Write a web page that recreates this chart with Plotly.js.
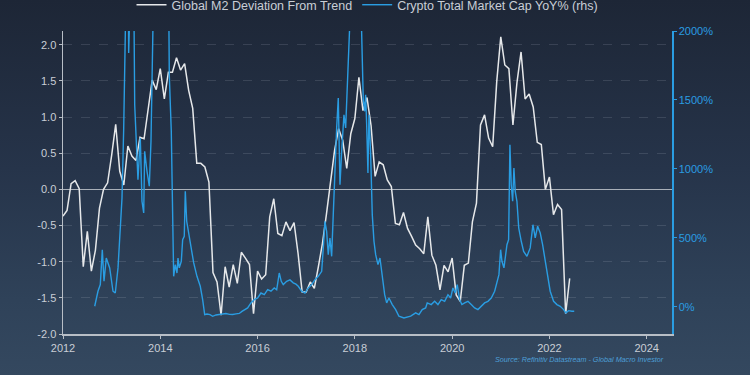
<!DOCTYPE html>
<html>
<head>
<meta charset="utf-8">
<script src="https://cdn.plot.ly/plotly-3.0.1.min.js"></script>
<style>
html,body{margin:0;padding:0;}
body{width:750px;height:375px;background:linear-gradient(180deg,#1d2636 0%,#26344a 45%,#2f4259 80%,#34485f 100%);overflow:hidden;}
#chart{width:750px;height:375px;}
</style>
</head>
<body>
<div id="chart"></div>
<script>
// Global M2 deviation from trend (monthly, starting Jan 2012)
const m2Start = 2012;
const m2Values = [
 -0.37,-0.29,0.08,0.12,0.01,-1.07,-0.58,-1.13,-0.84,-0.26,0.00,0.09,
 0.47,0.90,0.25,0.06,0.60,0.46,0.40,0.72,0.70,1.14,1.51,1.38,
 1.67,1.25,1.62,1.62,1.82,1.65,1.74,1.37,1.12,0.36,0.36,0.31,
 0.10,-1.15,-1.28,-1.74,-1.07,-1.35,-1.04,-1.30,-0.87,-0.95,-1.04,-1.72,
 -1.13,-1.24,-1.18,-0.38,-0.13,-0.61,-0.64,-0.45,-0.57,-0.46,-0.89,-1.42,
 -1.42,-1.28,-1.37,-1.07,-0.75,-0.34,0.10,0.54,0.84,0.68,0.29,0.77,
 0.98,1.55,1.09,1.27,0.88,0.18,0.38,0.34,0.13,0.04,-0.47,-0.49,
 -0.32,-0.54,-0.65,-0.77,-0.82,-0.89,-0.38,-0.91,-1.05,-1.39,-1.05,-1.14,
 -0.95,-1.46,-1.55,-1.05,-1.02,-0.45,-0.19,0.89,1.03,0.71,0.59,1.49,
 2.11,1.72,1.67,0.89,1.48,1.90,1.25,1.32,1.14,0.65,0.62,0.00,
 0.17,-0.35,-0.21,-0.28,-1.72,-1.23
];

// Crypto total market cap YoY % (decimal-year dates)
const cryptoT = [
 2012.652,2012.719,2012.767,2012.808,2012.843,2012.890,2012.960,2013.028,2013.075,2013.131,
 2013.178,2013.213,2013.248,2013.268,2013.330,2013.350,2013.367,2013.439,2013.474,2013.521,
 2013.541,2013.589,2013.624,2013.659,2013.679,2013.727,2013.774,2013.809,2013.844,2013.864,
 2013.994,2014.158,2014.185,2014.226,2014.255,2014.275,2014.308,2014.343,2014.364,2014.390,
 2014.432,2014.460,2014.493,2014.514,2014.543,2014.584,2014.637,2014.687,2014.754,2014.822,
 2014.871,2014.913,2014.960,2015.022,2015.077,2015.145,2015.213,2015.279,2015.350,2015.422,
 2015.488,2015.556,2015.624,2015.679,2015.727,2015.796,2015.864,2015.932,2016.002,2016.070,
 2016.138,2016.208,2016.275,2016.343,2016.393,2016.446,2016.487,2016.528,2016.598,2016.666,
 2016.734,2016.789,2016.837,2016.906,2016.974,2017.042,2017.112,2017.180,2017.248,2017.318,
 2017.365,2017.385,2017.420,2017.453,2017.488,2017.523,2017.556,2017.591,2017.626,2017.659,
 2017.694,2017.729,2017.776,2017.811,2017.844,2017.879,2017.899,2018.002,2018.132,2018.152,
 2018.173,2018.202,2018.222,2018.243,2018.269,2018.290,2018.325,2018.358,2018.393,2018.428,
 2018.475,2018.516,2018.563,2018.613,2018.654,2018.701,2018.769,2018.839,2018.906,2019.009,
 2019.147,2019.250,2019.318,2019.385,2019.455,2019.488,2019.570,2019.640,2019.708,2019.776,
 2019.846,2019.914,2019.969,2020.016,2020.064,2020.105,2020.154,2020.201,2020.257,2020.325,
 2020.393,2020.463,2020.530,2020.598,2020.668,2020.736,2020.804,2020.874,2020.927,2020.962,
 2020.997,2021.024,2021.065,2021.127,2021.161,2021.188,2021.215,2021.244,2021.270,2021.297,
 2021.332,2021.369,2021.421,2021.470,2021.538,2021.605,2021.661,2021.708,2021.758,2021.811,
 2021.860,2021.913,2021.963,2022.016,2022.086,2022.154,2022.222,2022.292,2022.339,2022.394,
 2022.462,2022.510
];
const cryptoV = [
 5,114,162,415,186,355,283,114,101,283,
 572,790,1297,3000,3000,1840,3000,3000,1466,1055,
 922,1225,766,681,1128,983,875,1201,1659,3000,
 5000,3000,1683,1273,693,222,306,246,355,283,
 331,488,512,838,621,536,428,319,222,150,
 53,-56,-51,-56,-68,-58,-55,-52,-48,-54,
 -55,-50,-47,-32,-19,-7,29,53,65,101,
 89,125,114,138,125,246,186,162,186,196,
 175,165,150,114,101,138,162,198,222,258,
 500,621,549,379,500,367,669,1055,1297,1514,
 886,1128,1393,1297,1538,1780,2000,3000,2100,1828,
 1502,1418,1538,1321,971,1393,1104,669,476,379,
 307,355,234,89,29,65,17,-19,-67,-80,
 -67,-43,-56,-19,-7,29,17,41,17,53,
 41,89,65,138,101,162,53,17,29,41,
 17,-7,-19,5,29,41,65,114,186,234,
 415,331,283,451,488,1176,886,766,1007,838,
 766,572,476,403,367,428,596,500,585,536,
 451,331,210,114,41,17,5,-19,-43,-27,
 -31,-31
];

const xTicks = [2012,2014,2016,2018,2020,2022,2024];
const leftTicks = [-2.0,-1.5,-1.0,-0.5,0.0,0.5,1.0,1.5,2.0];
const rightTicks = [0,500,1000,1500,2000];
const rightTickText = ["0%","500%","1000%","1500%","2000%"];

const m2X = m2Values.map((v,i)=> m2Start + i/12);

const white = '#e6e8ea';
const blue = '#2a9de2';
const font = 'Liberation Sans, Arial, sans-serif';

const traces = [
 {x:m2X, y:m2Values, type:'scatter', mode:'lines', name:'Global M2 Deviation From Trend',
  line:{color:white, width:1.5}, yaxis:'y'},
 {x:cryptoT, y:cryptoV, type:'scatter', mode:'lines', name:'Crypto Total Market Cap YoY% (rhs)',
  line:{color:blue, width:1.4}, yaxis:'y2'}
];

const layout = {
 width:750, height:375,
 paper_bgcolor:'rgba(0,0,0,0)', plot_bgcolor:'rgba(0,0,0,0)',
 margin:{l:63, r:78, t:31, b:41, autoexpand:false},
 font:{family:font, color:'#c9ced6', size:11},
 showlegend:true,
 legend:{orientation:'h', x:0.5, xanchor:'center', y:1.135, yanchor:'top',
   bgcolor:'rgba(0,0,0,0)', font:{size:12.5, family:font}, itemwidth:30, tracegroupgap:0},
 xaxis:{range:[2012,2024.52], tickvals:xTicks, ticktext:xTicks.map(String),
   showgrid:false, zeroline:false, showline:true, linecolor:'#b8bec6', linewidth:1.5,
   ticks:'outside', ticklen:3, tickcolor:'#b8bec6', tickfont:{color:'#c9ced6', size:11}},
 yaxis:{range:[-2.0,2.19], tickvals:leftTicks, ticktext:leftTicks.map(v=>v.toFixed(1)),
   showgrid:true, gridcolor:'rgba(200,210,220,0.15)', griddash:'dash', gridwidth:1,
   zeroline:true, zerolinecolor:'#a9b0b9', zerolinewidth:1.5,
   showline:true, linecolor:'#b8bec6', linewidth:1.5,
   ticks:'outside', ticklen:3, tickcolor:'#b8bec6', tickfont:{color:'#c9ced6', size:11}},
 yaxis2:{range:[-196,2000], overlaying:'y', side:'right', tickvals:rightTicks, ticktext:rightTickText,
   showgrid:false, zeroline:false, showline:true, linecolor:blue, linewidth:1.5,
   ticks:'outside', ticklen:3, tickcolor:blue, tickfont:{color:blue, size:11}},
 annotations:[{text:'<i>Source: Refinitiv Datastream - Global Macro Investor</i>', xref:'paper', yref:'paper',
   x:0.99, y:-0.083, xanchor:'right', yanchor:'middle', showarrow:false,
   font:{size:7.2, color:'#4d9fd6', family:font}}]
};

Plotly.newPlot('chart', traces, layout, {displayModeBar:false, staticPlot:true});
</script>
</body>
</html>
